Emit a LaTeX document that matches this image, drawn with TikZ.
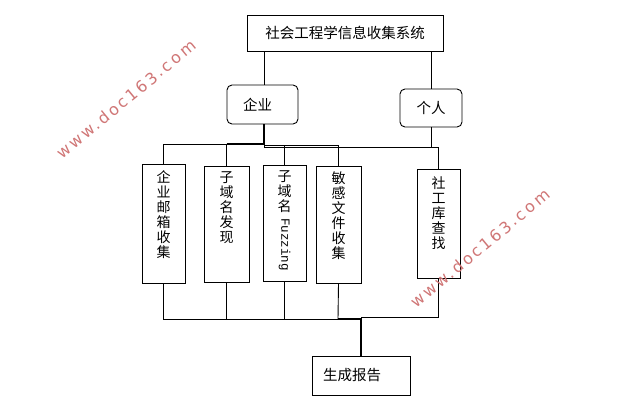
\documentclass[tikz,border=0pt]{standalone}
\usepackage{fontspec}
\usetikzlibrary{calc}
\setmainfont{Noto Sans CJK SC}
\newfontfamily\latinmono{Liberation Mono}
\newfontfamily\wmfont[LetterSpace=16]{DejaVu Sans}
\definecolor{wmred}{RGB}{208,118,118}
\begin{document}
\begin{tikzpicture}[x=1pt,y=-1pt,
  box/.style={draw,line width=0.9pt,inner sep=0pt},
  rbox/.style={box,rounded corners=5pt},
  vbox/.style={box,minimum width=44pt},
  vtext/.style={anchor=north,inner sep=0pt,align=center,font=\fontsize{14}{15}\selectfont},
  wire/.style={line width=0.9pt},
  thickwire/.style={line width=2pt},
  wm/.style={text=wmred,font=\wmfont\fontsize{16}{16}\selectfont,rotate=39.5,inner sep=0pt}]
\useasboundingbox (0,0) rectangle (632,418);
\fill[white] (0,0) rectangle (632,418);
% boxes
\node[box,minimum width=196pt,minimum height=36pt,font=\fontsize{14.5}{16}\selectfont] (top) at (345,33) {\raisebox{-1.5pt}{社会工程学信息收集系统}};
\node[rbox,minimum width=71pt,minimum height=39pt,font=\fontsize{14.5}{16}\selectfont] (ent) at (262.5,104.5) {\hspace*{-10pt}企业};
\node[rbox,minimum width=62pt,minimum height=38pt,font=\fontsize{14.5}{16}\selectfont] (per) at (431,108) {个人};
\node[vbox,minimum width=43pt,minimum height=119pt] (c1) at (163.5,223.5) {};
\node[vbox,minimum width=45pt,minimum height=116pt] (c2) at (226.5,224) {};
\node[vbox,minimum width=43pt,minimum height=116pt] (c3) at (284.5,223) {};
\node[vbox,minimum width=45pt,minimum height=117pt] (c4) at (338.5,224.5) {};
\node[vbox,minimum width=43pt,minimum height=109pt] (c5) at (438.5,223.5) {};
\node[box,minimum width=98pt,minimum height=39pt,text width=76pt,align=left,inner xsep=11pt,font=\fontsize{14.5}{16}\selectfont] (rep) at (361,375.5) {\raisebox{-2pt}{生成报告}};
% vertical texts
\node[vtext] (t1) at ($(c1.north)+(0,7)$) {企\\业\\邮\\箱\\收\\集};
\node[vtext] (t2) at ($(c2.north)+(0,6)$) {子\\域\\名\\发\\现};
\node[vtext] (t3) at ($(c3.north)+(0,6)$) {子\\域\\名};
\node[rotate=-90,anchor=west,inner sep=0pt,font=\latinmono\fontsize{12.5}{13}\selectfont] (t3b) at ($(t3.south)+(0,5)$) {Fuzzing};
\node[vtext] (t4) at ($(c4.north)+(0,6)$) {敏\\感\\文\\件\\收\\集};
\node[vtext] (t5) at ($(c5.north)+(0,8)$) {社\\工\\库\\查\\找};
% coordinates
\coordinate (busA) at (264,144);
\coordinate (busB) at (264,147);
\coordinate (busC) at (264,145);
\coordinate (botA) at (338,319);
\coordinate (botB) at (361,319);
\coordinate (botC) at (361,317);
% top connectors
\draw[wire] (top.south -| busA) -- (ent.north -| busA);
\draw[wire] (top.south -| per) -- (per.north);
% upper bus
\draw[thickwire] (ent.south -| busA) -- (busA);
\draw[wire] (c1.north) -- (c1.north |- busA) -- (busA);
\draw[thickwire] (c2.north |- busA) -- (busA);
\draw[wire] (c2.north) -- (c2.north |- busA);
\draw[wire] (busA) -- (busB) -- (busB -| c5.north) -- (c5.north);
\draw[wire] (busC) -- (c4.north |- busC) -- (c4.north);
\draw[wire] (c3.north) -- (c3.north |- busC);
\draw[wire] (per.south) -- (per.south |- busB);
% lower bus
\draw[wire] (c1.south) -- (c1.south |- botA) -- (botA);
\draw[wire] (c2.south) -- (c2.south |- botA);
\draw[wire] (c3.south) -- (c3.south |- botA);
\draw[wire] (c4.south) -- (botA);
\draw[thickwire] (botA) -- (botB) -- (rep.north -| botB);
\draw[wire] (c5.south) -- (c5.south |- botC) -- (botC);
% watermarks
\node[wm] (wm1) at (126,99) {www.doc163.com};
\node[wm] (wm2) at (480,248) {www.doc163.com};
\end{tikzpicture}
\end{document}
